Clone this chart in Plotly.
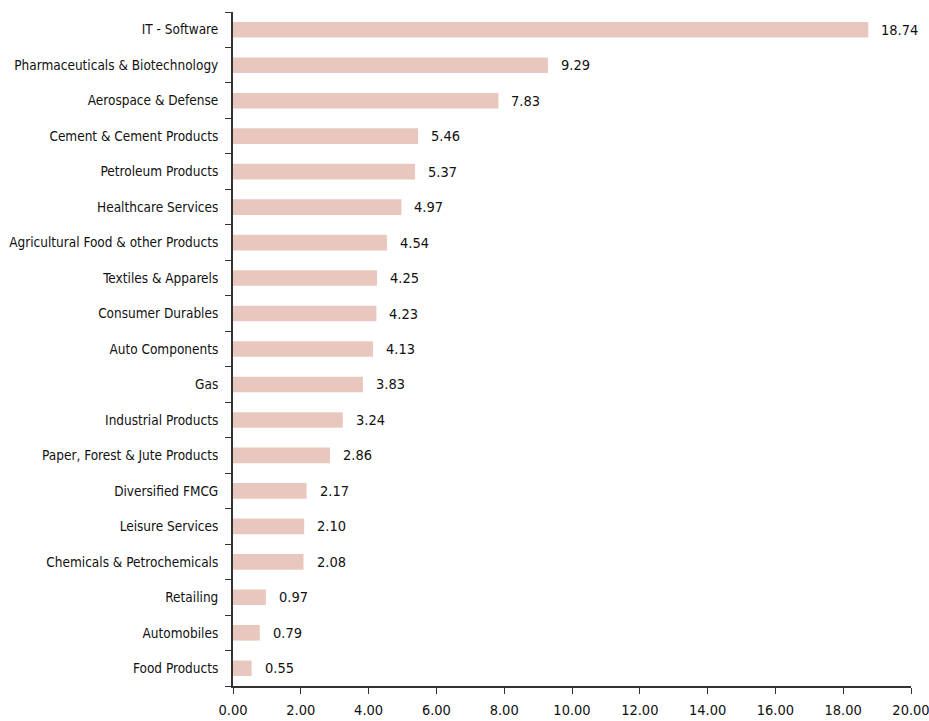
import plotly.graph_objects as go

sectors = [
    "IT - Software",
    "Pharmaceuticals & Biotechnology",
    "Aerospace & Defense",
    "Cement & Cement Products",
    "Petroleum Products",
    "Healthcare Services",
    "Agricultural Food & other Products",
    "Textiles & Apparels",
    "Consumer Durables",
    "Auto Components",
    "Gas",
    "Industrial Products",
    "Paper, Forest & Jute Products",
    "Diversified FMCG",
    "Leisure Services",
    "Chemicals & Petrochemicals",
    "Retailing",
    "Automobiles",
    "Food Products",
]
weights = [18.74, 9.29, 7.83, 5.46, 5.37, 4.97, 4.54, 4.25, 4.23, 4.13,
           3.83, 3.24, 2.86, 2.17, 2.10, 2.08, 0.97, 0.79, 0.55]
x_ticks = [0, 2, 4, 6, 8, 10, 12, 14, 16, 18, 20]

FONT = "DejaVu Sans Condensed, sans-serif"
BAR = "#E8C8BE"
INK = "#111111"

fig = go.Figure()
fig.add_trace(go.Bar(
    x=weights,
    y=sectors,
    orientation="h",
    marker=dict(color=BAR, line=dict(width=0)),
    width=0.44,
    hoverinfo="skip",
))

# value labels to the right of each bar
for s, w in zip(sectors, weights):
    fig.add_annotation(
        x=w, y=s, text=f"{w:.2f}", showarrow=False,
        xanchor="left", yanchor="middle", xshift=11,
        font=dict(family=FONT, size=14.5, color=INK),
    )

fig.update_layout(
    width=929, height=721,
    margin=dict(l=233, r=18, t=12, b=35),
    paper_bgcolor="white", plot_bgcolor="white",
    showlegend=False,
    font=dict(family=FONT, size=14, color=INK),
)
fig.update_xaxes(
    range=[0, 20],
    tickvals=x_ticks,
    ticktext=[f"{v:.2f}" for v in x_ticks],
    showgrid=False, zeroline=False,
    showline=True, linecolor="#333333", linewidth=2,
    ticks="outside", ticklen=6, tickwidth=1.2, tickcolor="#333333",
    tickfont=dict(family=FONT, size=14.5, color=INK),
    ticklabelstandoff=4,
    automargin=False,
    ticklabeloverflow="allow",
)
fig.update_yaxes(
    categoryorder="array", categoryarray=sectors[::-1],
    showgrid=False, zeroline=False,
    showline=True, linecolor="#333333", linewidth=2,
    ticks="outside", ticklen=6, tickwidth=1.2, tickcolor="#333333",
    tickson="boundaries",
    ticklabelstandoff=10,
    tickfont=dict(family=FONT, size=13.5, color=INK),
    automargin=False,
    ticklabeloverflow="allow",
)

fig.write_html("out.html")
